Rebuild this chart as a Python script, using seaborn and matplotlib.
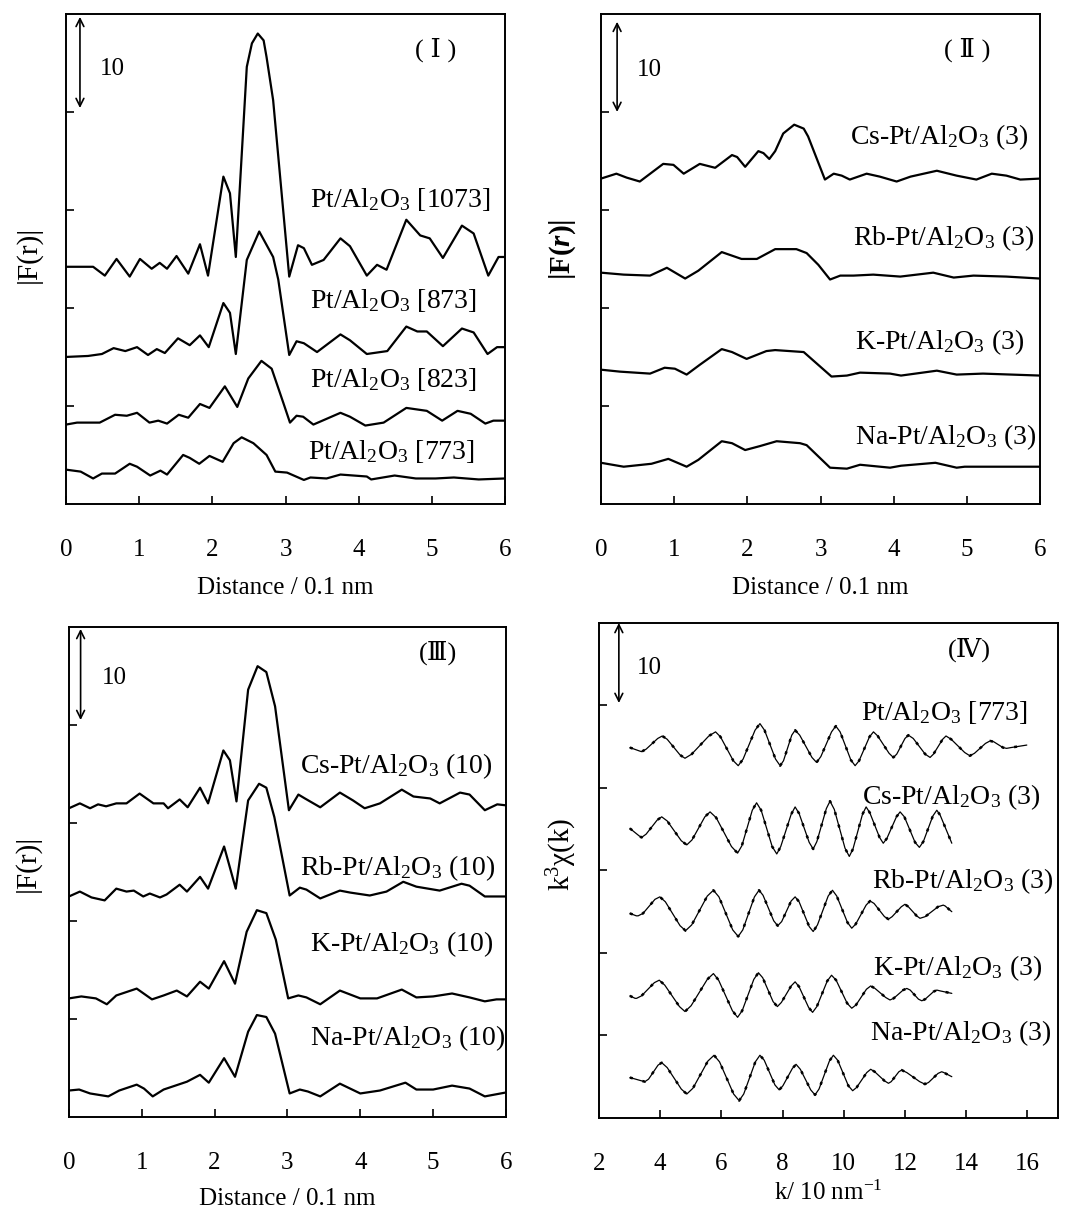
import matplotlib
matplotlib.use("Agg")
import matplotlib.pyplot as plt
import seaborn as sns

# ---- panel I : FT of Pt/Al2O3 reduced at different temperatures ----
r1073 = [0.00, 0.37, 0.53, 0.69, 0.87, 1.01, 1.17, 1.28, 1.38, 1.51, 1.67, 1.83, 1.94, 2.15, 2.24, 2.32, 2.47, 2.54, 2.62, 2.70, 2.74, 2.83, 3.05, 3.17, 3.25, 3.36, 3.52, 3.75, 3.88, 4.11, 4.25, 4.38, 4.65, 4.84, 4.97, 5.15, 5.41, 5.57, 5.77, 5.91, 6.00]
f1073 = [24.2, 24.2, 23.3, 25.0, 23.2, 25.0, 24.0, 24.6, 24.0, 25.3, 23.5, 26.5, 23.3, 33.4, 31.7, 25.2, 44.6, 47.0, 48.0, 47.3, 45.6, 41.2, 23.2, 26.4, 26.1, 24.4, 24.9, 27.1, 26.3, 23.3, 24.4, 23.9, 29.0, 27.4, 27.1, 25.1, 28.4, 27.6, 23.3, 25.2, 25.2]
r873 = [0.00, 0.30, 0.49, 0.65, 0.81, 0.97, 1.12, 1.24, 1.35, 1.53, 1.69, 1.83, 1.95, 2.15, 2.24, 2.32, 2.47, 2.64, 2.83, 2.90, 3.05, 3.15, 3.25, 3.43, 3.75, 3.88, 4.11, 4.39, 4.65, 4.80, 4.93, 5.15, 5.41, 5.57, 5.76, 5.89, 6.00]
f873 = [15.0, 15.1, 15.3, 15.9, 15.6, 16.0, 15.2, 15.8, 15.4, 16.9, 16.2, 17.2, 16.0, 20.5, 19.5, 15.3, 24.9, 27.8, 25.2, 22.9, 15.2, 16.6, 16.4, 15.5, 17.3, 16.7, 15.3, 15.6, 18.1, 17.6, 17.6, 16.1, 17.9, 17.5, 15.3, 16.0, 16.0]
r823 = [0.00, 0.15, 0.46, 0.67, 0.83, 0.97, 1.14, 1.26, 1.38, 1.54, 1.67, 1.83, 1.96, 2.17, 2.34, 2.49, 2.67, 2.81, 2.97, 3.06, 3.15, 3.24, 3.38, 3.75, 3.88, 4.09, 4.34, 4.65, 4.93, 5.14, 5.35, 5.53, 5.73, 5.84, 6.00]
f823 = [8.1, 8.3, 8.3, 9.1, 9.0, 9.3, 8.3, 8.5, 8.2, 9.1, 8.8, 10.2, 9.8, 12.0, 9.9, 12.8, 14.6, 13.8, 10.3, 8.3, 9.0, 8.9, 8.1, 9.3, 8.9, 8.0, 8.3, 9.8, 9.5, 8.5, 9.5, 9.2, 8.2, 8.5, 8.5]
r773 = [0.00, 0.20, 0.37, 0.49, 0.67, 0.87, 0.97, 1.15, 1.29, 1.38, 1.60, 1.69, 1.82, 1.96, 2.14, 2.29, 2.40, 2.56, 2.74, 2.86, 3.02, 3.25, 3.34, 3.56, 3.75, 4.11, 4.17, 4.49, 4.78, 5.05, 5.30, 5.64, 6.00]
f773 = [3.5, 3.3, 2.6, 3.1, 3.1, 4.1, 3.8, 2.9, 3.4, 3.0, 5.0, 4.7, 4.1, 4.9, 4.3, 6.2, 6.8, 6.2, 5.0, 3.3, 3.2, 2.45, 2.7, 2.6, 3.0, 2.8, 2.5, 2.9, 2.6, 2.6, 2.7, 2.5, 2.6]

# ---- panel II : FT of alkali-Pt/Al2O3 (3) ----
r_cs3 = [0.00, 0.21, 0.35, 0.53, 0.85, 0.99, 1.13, 1.35, 1.56, 1.79, 1.86, 1.97, 2.15, 2.22, 2.30, 2.38, 2.49, 2.64, 2.77, 2.83, 3.06, 3.18, 3.29, 3.40, 3.63, 3.81, 4.04, 4.23, 4.59, 4.86, 5.13, 5.34, 5.54, 5.73, 6.00]
f_cs3 = [33.2, 33.7, 33.3, 32.9, 34.7, 34.6, 33.7, 34.7, 34.3, 35.6, 35.4, 34.4, 36.0, 35.8, 35.2, 36.0, 37.8, 38.7, 38.3, 37.5, 33.1, 33.7, 33.5, 33.1, 33.7, 33.4, 32.9, 33.4, 34.0, 33.5, 33.1, 33.7, 33.5, 33.1, 33.2]
r_rb3 = [0.00, 0.31, 0.67, 0.90, 1.15, 1.33, 1.65, 1.92, 2.13, 2.38, 2.67, 2.81, 2.97, 3.13, 3.27, 3.45, 3.72, 4.09, 4.54, 4.82, 5.09, 5.54, 6.00]
f_rb3 = [23.6, 23.4, 23.3, 24.1, 23.0, 23.8, 25.7, 25.0, 25.0, 26.0, 26.0, 25.6, 24.4, 22.9, 23.3, 23.3, 23.4, 23.2, 23.6, 23.1, 23.3, 23.2, 23.0]
r_k3 = [0.00, 0.26, 0.67, 0.87, 1.01, 1.17, 1.35, 1.65, 1.79, 1.99, 2.26, 2.38, 2.77, 3.15, 3.36, 3.54, 3.95, 4.10, 4.59, 4.86, 5.22, 6.00]
f_k3 = [13.7, 13.5, 13.3, 13.9, 13.8, 13.2, 14.2, 15.8, 15.5, 14.8, 15.6, 15.7, 15.5, 13.0, 13.1, 13.4, 13.3, 13.1, 13.6, 13.2, 13.3, 13.1]
r_na3 = [0.00, 0.31, 0.69, 0.92, 1.17, 1.33, 1.65, 1.79, 1.97, 2.17, 2.40, 2.72, 2.81, 3.13, 3.36, 3.54, 3.95, 4.10, 4.57, 4.86, 4.97, 6.00]
f_na3 = [4.2, 3.8, 4.1, 4.6, 3.8, 4.5, 6.4, 6.2, 5.5, 5.9, 6.4, 6.2, 6.0, 3.7, 3.6, 4.0, 3.7, 3.9, 4.2, 3.7, 3.8, 3.8]

# ---- panel III : FT of alkali-Pt/Al2O3 (10) ----
r_cs10 = [0.00, 0.15, 0.29, 0.40, 0.51, 0.65, 0.79, 0.97, 1.16, 1.30, 1.36, 1.52, 1.63, 1.80, 1.91, 2.12, 2.21, 2.30, 2.46, 2.59, 2.71, 2.83, 3.02, 3.15, 3.24, 3.45, 3.72, 3.90, 4.06, 4.27, 4.57, 4.73, 4.96, 5.09, 5.37, 5.50, 5.71, 5.88, 6.00]
f_cs10 = [31.5, 32.0, 31.5, 31.9, 31.7, 32.0, 32.0, 33.0, 32.0, 32.0, 31.5, 32.4, 31.6, 33.6, 32.0, 37.4, 36.4, 32.2, 43.6, 46.0, 45.4, 41.9, 31.3, 32.9, 32.5, 31.6, 33.1, 32.3, 31.5, 32.0, 33.4, 32.7, 32.5, 32.0, 33.1, 32.9, 31.3, 31.9, 31.8]
r_rb10 = [0.00, 0.15, 0.31, 0.49, 0.65, 0.79, 0.89, 1.02, 1.11, 1.25, 1.34, 1.52, 1.62, 1.80, 1.91, 2.13, 2.29, 2.46, 2.61, 2.71, 2.82, 3.03, 3.17, 3.26, 3.45, 3.72, 3.86, 4.13, 4.36, 4.59, 4.77, 5.09, 5.39, 5.50, 5.71, 6.00]
f_rb10 = [22.5, 23.0, 22.4, 22.1, 23.3, 23.0, 23.1, 22.5, 22.8, 22.4, 22.7, 23.7, 23.0, 24.5, 23.3, 27.6, 23.3, 32.3, 34.0, 33.6, 30.6, 22.6, 23.4, 23.2, 22.3, 23.1, 22.9, 22.6, 23.0, 24.0, 23.5, 23.1, 23.8, 23.6, 22.5, 22.5]
r_k10 = [0.00, 0.17, 0.37, 0.52, 0.65, 0.93, 1.14, 1.30, 1.48, 1.62, 1.80, 1.92, 2.13, 2.28, 2.44, 2.58, 2.71, 2.84, 3.01, 3.15, 3.26, 3.45, 3.72, 4.00, 4.23, 4.57, 4.77, 5.00, 5.26, 5.50, 5.71, 5.87, 6.00]
f_k10 = [12.1, 12.3, 12.1, 11.5, 12.4, 13.1, 12.0, 12.4, 12.9, 12.3, 13.8, 13.1, 15.9, 13.6, 18.9, 21.1, 20.8, 18.1, 12.1, 12.4, 12.2, 11.5, 12.9, 12.1, 12.1, 13.0, 12.2, 12.3, 12.6, 12.2, 11.8, 12.0, 12.0]
r_na10 = [0.00, 0.14, 0.29, 0.54, 0.69, 0.93, 1.03, 1.15, 1.30, 1.62, 1.80, 1.92, 2.13, 2.28, 2.46, 2.58, 2.71, 2.83, 3.03, 3.17, 3.28, 3.45, 3.72, 4.00, 4.27, 4.62, 4.77, 5.00, 5.26, 5.50, 5.71, 6.00]
f_na10 = [2.7, 2.8, 2.4, 2.1, 2.7, 3.3, 2.9, 2.1, 2.8, 3.6, 4.3, 3.5, 6.0, 4.1, 8.7, 10.4, 10.2, 8.5, 2.4, 2.8, 2.6, 2.1, 3.4, 2.4, 2.7, 3.5, 2.8, 2.8, 3.2, 2.9, 2.1, 2.5]

# ---- panel IV : k3-weighted EXAFS oscillations ----
k_pt773 = [3.01, 3.31, 3.39, 3.54, 3.92, 4.07, 4.23, 4.65, 4.81, 5.03, 5.59, 5.81, 5.97, 6.39, 6.55, 6.71, 7.10, 7.26, 7.41, 7.77, 7.92, 8.03, 8.30, 8.41, 8.56, 8.96, 9.11, 9.25, 9.60, 9.74, 9.88, 10.23, 10.37, 10.50, 10.84, 10.97, 11.11, 11.48, 11.62, 11.73, 12.00, 12.11, 12.27, 12.66, 12.82, 12.93, 13.23, 13.34, 13.51, 13.95, 14.12, 14.27, 14.63, 14.78, 14.90, 15.20, 15.32, 15.47, 15.98]
chi_pt773 = [44.9, 44.5, 44.4, 44.7, 46.0, 46.3, 45.9, 44.0, 43.6, 44.1, 46.3, 46.8, 46.2, 43.3, 42.7, 43.5, 47.0, 47.8, 47.0, 43.5, 42.7, 43.3, 46.4, 47.0, 46.4, 43.7, 43.1, 43.8, 46.8, 47.5, 46.8, 43.4, 42.7, 43.3, 46.2, 46.8, 46.3, 44.2, 43.7, 44.1, 46.0, 46.4, 46.0, 44.1, 43.7, 44.1, 45.9, 46.3, 45.9, 44.3, 43.9, 44.2, 45.4, 45.7, 45.6, 44.9, 44.8, 44.9, 45.2]
k_cs3 = [3.01, 3.31, 3.39, 3.54, 3.90, 4.05, 4.23, 4.69, 4.87, 5.04, 5.46, 5.63, 5.83, 6.33, 6.53, 6.67, 7.01, 7.15, 7.30, 7.66, 7.81, 7.94, 8.28, 8.41, 8.54, 8.87, 9.00, 9.12, 9.43, 9.55, 9.69, 10.04, 10.18, 10.30, 10.61, 10.73, 10.85, 11.17, 11.29, 11.41, 11.72, 11.84, 11.98, 12.33, 12.47, 12.60, 12.91, 13.04, 13.15, 13.53]
chi_cs3 = [35.1, 34.2, 34.0, 34.4, 36.1, 36.5, 36.0, 33.6, 33.1, 33.7, 36.5, 37.1, 36.4, 32.9, 32.1, 33.0, 37.3, 38.2, 37.3, 32.9, 32.0, 32.9, 36.8, 37.7, 36.9, 33.4, 32.6, 33.5, 37.5, 38.4, 37.4, 32.7, 31.7, 32.6, 36.8, 37.7, 37.0, 34.0, 33.3, 33.9, 36.5, 37.1, 36.5, 33.4, 32.8, 33.5, 36.6, 37.3, 36.7, 33.3]
k_rb3 = [3.01, 3.22, 3.28, 3.44, 3.83, 3.99, 4.17, 4.65, 4.83, 5.03, 5.54, 5.74, 5.92, 6.37, 6.55, 6.70, 7.08, 7.23, 7.36, 7.71, 7.84, 7.97, 8.28, 8.41, 8.54, 8.87, 9.00, 9.14, 9.49, 9.63, 9.77, 10.12, 10.26, 10.39, 10.73, 10.86, 10.99, 11.33, 11.46, 11.58, 11.88, 12.00, 12.11, 12.38, 12.49, 12.66, 13.08, 13.25, 13.31, 13.53]
chi_rb3 = [24.8, 24.5, 24.5, 24.8, 26.5, 26.8, 26.2, 23.3, 22.7, 23.4, 26.9, 27.6, 26.8, 22.8, 22.0, 22.8, 26.8, 27.6, 27.0, 23.9, 23.3, 23.8, 26.3, 26.8, 26.2, 23.2, 22.6, 23.4, 26.9, 27.6, 26.9, 23.7, 23.0, 23.5, 25.8, 26.3, 26.0, 24.4, 24.1, 24.4, 25.6, 25.9, 25.6, 24.5, 24.2, 24.4, 25.6, 25.8, 25.7, 25.0]
k_k3 = [3.01, 3.18, 3.23, 3.39, 3.81, 3.97, 4.15, 4.63, 4.81, 5.01, 5.54, 5.74, 5.91, 6.36, 6.53, 6.68, 7.06, 7.21, 7.35, 7.69, 7.83, 7.96, 8.28, 8.41, 8.54, 8.85, 8.98, 9.12, 9.46, 9.60, 9.75, 10.11, 10.26, 10.40, 10.74, 10.88, 11.02, 11.37, 11.51, 11.63, 11.94, 12.06, 12.17, 12.44, 12.55, 12.66, 12.93, 13.04, 13.15, 13.53]
chi_k3 = [14.8, 14.5, 14.5, 14.8, 16.4, 16.7, 16.1, 13.5, 12.9, 13.6, 16.8, 17.5, 16.7, 13.0, 12.2, 13.0, 16.8, 17.6, 17.0, 14.1, 13.5, 14.0, 16.0, 16.5, 15.9, 13.4, 12.8, 13.5, 16.6, 17.3, 16.7, 13.9, 13.3, 13.7, 15.6, 16.0, 15.7, 14.6, 14.3, 14.5, 15.5, 15.7, 15.5, 14.4, 14.2, 14.4, 15.3, 15.5, 15.4, 15.1]
k_na3 = [3.01, 3.39, 3.50, 3.62, 3.93, 4.05, 4.23, 4.69, 4.87, 5.07, 5.56, 5.76, 5.94, 6.40, 6.58, 6.73, 7.11, 7.26, 7.40, 7.75, 7.89, 8.01, 8.32, 8.44, 8.58, 8.92, 9.06, 9.19, 9.53, 9.66, 9.80, 10.15, 10.29, 10.42, 10.75, 10.88, 11.01, 11.33, 11.46, 11.55, 11.80, 11.89, 12.06, 12.48, 12.65, 12.77, 13.08, 13.20, 13.27, 13.53]
chi_na3 = [4.9, 4.5, 4.4, 4.7, 6.4, 6.7, 6.1, 3.5, 2.9, 3.6, 6.9, 7.6, 6.8, 2.9, 2.1, 2.9, 6.8, 7.6, 7.0, 4.0, 3.4, 3.9, 6.0, 6.5, 5.9, 3.4, 2.8, 3.5, 6.9, 7.6, 7.0, 3.9, 3.3, 3.7, 5.5, 5.9, 5.6, 4.5, 4.2, 4.4, 5.6, 5.8, 5.5, 4.4, 4.1, 4.3, 5.4, 5.6, 5.5, 5.0]

AL = "Al$_2$O$_3$"
SERIF = ['Liberation Serif', 'DejaVu Serif']

sns.set_style("ticks", {"axes.edgecolor": "black", "xtick.color": "black", "ytick.color": "black",
                        "text.color": "black", "axes.labelcolor": "black"})
plt.rcParams['font.family'] = ['Liberation Serif', 'DejaVu Serif', 'Noto Sans CJK JP']
plt.rcParams['mathtext.fontset'] = 'custom'
plt.rcParams['mathtext.rm'] = 'Liberation Serif'
plt.rcParams['mathtext.it'] = 'Liberation Serif:italic'
plt.rcParams['mathtext.bf'] = 'Liberation Serif:bold'
plt.rcParams['mathtext.bfit'] = 'Liberation Serif:italic:bold'
plt.rcParams['text.color'] = 'black'

fig = plt.figure(figsize=(10.74, 12.12), dpi=100)
ax1 = fig.add_axes([0.0615, 0.5842, 0.4088, 0.4043])
ax2 = fig.add_axes([0.5596, 0.5842, 0.4088, 0.4043])
ax3 = fig.add_axes([0.0642, 0.0784, 0.4069, 0.4043])
ax4 = fig.add_axes([0.5577, 0.0776, 0.4274, 0.4084])

LW = 1.6


def curve(ax, x, y):
    sns.lineplot(x=x, y=y, ax=ax, color="black", linewidth=LW, sort=False, estimator=None)


def chi_curve(ax, x, y):
    # thin fitted line with the measured data as a dashed overlay
    sns.lineplot(x=x, y=y, ax=ax, color="black", linewidth=0.9, sort=False, estimator=None)
    sns.lineplot(x=x, y=y, ax=ax, color="black", linewidth=1.8, sort=False, estimator=None,
                 linestyle=(0, (1.2, 4)))


def style(ax, xlim, ylim, xticks, yticks, xlabel, labelpad=12):
    ax.set_xlim(*xlim)
    ax.set_ylim(*ylim)
    ax.set_xticks(xticks)
    ax.set_yticks(yticks)
    ax.set_yticklabels([])
    ax.tick_params(direction="in", length=6, width=1.2, labelsize=18, pad=25,
                   top=False, right=False, colors="black")
    ax.set_xlabel(xlabel, fontsize=18, labelpad=labelpad, color="black")
    ax.set_ylabel("")
    for sp in ax.spines.values():
        sp.set_linewidth(1.4)
        sp.set_color("black")


def scale_bar(ax, x, y0, y1, tx, ty):
    ax.annotate("", xy=(x, y1), xytext=(x, y0),
                arrowprops=dict(arrowstyle="<->", color="black", lw=1.2,
                                shrinkA=0, shrinkB=0, mutation_scale=14))
    ax.text(tx, ty, "10", fontsize=18, ha="left", va="center", color="black")


def label(ax, x, y, s):
    ax.text(x, y, s, fontsize=20, ha="left", va="baseline", color="black")


def numeral(ax, x, y, s):
    ax.text(x, y, s, fontsize=19, ha="center", va="center", family=SERIF, color="black")


# panel I
for x, y in [(r1073, f1073), (r873, f873), (r823, f823), (r773, f773)]:
    curve(ax1, x, y)
style(ax1, (0, 6), (0, 50), range(7), [10, 20, 30, 40], "Distance / 0.1 nm")
label(ax1, 3.33, 30.3, "Pt/" + AL + " [1073]")
label(ax1, 3.34, 20.0, "Pt/" + AL + " [873]")
label(ax1, 3.33, 11.9, "Pt/" + AL + " [823]")
label(ax1, 3.31, 4.6, "Pt/" + AL + " [773]")
numeral(ax1, 5.05, 46.3, "( Ⅰ )")
scale_bar(ax1, 0.19, 40.4, 49.7, 0.46, 44.4)

# panel II
for x, y in [(r_cs3, f_cs3), (r_rb3, f_rb3), (r_k3, f_k3), (r_na3, f_na3)]:
    curve(ax2, x, y)
style(ax2, (0, 6), (0, 50), range(7), [10, 20, 30, 40], "Distance / 0.1 nm")
label(ax2, 3.40, 36.7, "Cs-Pt/" + AL + " (3)")
label(ax2, 3.45, 26.4, "Rb-Pt/" + AL + " (3)")
label(ax2, 3.47, 15.8, "K-Pt/" + AL + " (3)")
label(ax2, 3.47, 6.1, "Na-Pt/" + AL + " (3)")
numeral(ax2, 5.00, 46.3, "( Ⅱ )")
scale_bar(ax2, 0.22, 40.0, 49.2, 0.49, 44.3)

# panel III
for x, y in [(r_cs10, f_cs10), (r_rb10, f_rb10), (r_k10, f_k10), (r_na10, f_na10)]:
    curve(ax3, x, y)
style(ax3, (0, 6), (0, 50), range(7), [10, 20, 30, 40], "Distance / 0.1 nm", labelpad=10)
label(ax3, 3.17, 35.1, "Cs-Pt/" + AL + " (10)")
label(ax3, 3.17, 24.7, "Rb-Pt/" + AL + " (10)")
label(ax3, 3.31, 16.9, "K-Pt/" + AL + " (10)")
label(ax3, 3.31, 7.3, "Na-Pt/" + AL + " (10)")
numeral(ax3, 5.07, 47.4, "(Ⅲ)")
scale_bar(ax3, 0.16, 40.5, 49.8, 0.45, 44.8)

# panel IV
for x, y in [(k_pt773, chi_pt773), (k_cs3, chi_cs3), (k_rb3, chi_rb3), (k_k3, chi_k3), (k_na3, chi_na3)]:
    chi_curve(ax4, x, y)
style(ax4, (2, 17), (0, 60), range(2, 17, 2), [10, 20, 30, 40, 50], "k/ 10 nm$^{-1}$", labelpad=4)
label(ax4, 10.55, 48.2, "Pt/" + AL + " [773]")
label(ax4, 10.58, 38.0, "Cs-Pt/" + AL + " (3)")
label(ax4, 10.91, 27.8, "Rb-Pt/" + AL + " (3)")
label(ax4, 10.96, 17.3, "K-Pt/" + AL + " (3)")
label(ax4, 10.86, 9.45, "Na-Pt/" + AL + " (3)")
numeral(ax4, 14.12, 56.7, "(Ⅳ)")
scale_bar(ax4, 2.65, 50.3, 60.0, 3.23, 54.5)

# y labels
fig.text(0.026, 0.790, "|F(r)|", rotation=90, fontsize=21, ha="center", va="center")
fig.text(0.524, 0.794, r"$\mathbf{|F(}\mathbfit{r}\mathbf{)|}$", rotation=90, fontsize=21,
         ha="center", va="center")
fig.text(0.025, 0.288, "|F(r)|", rotation=90, fontsize=21, ha="center", va="center")
fig.text(0.523, 0.295, "k$^3$χ(k)", rotation=90, fontsize=21, ha="center", va="center")

fig.savefig("out.png", dpi=100)
